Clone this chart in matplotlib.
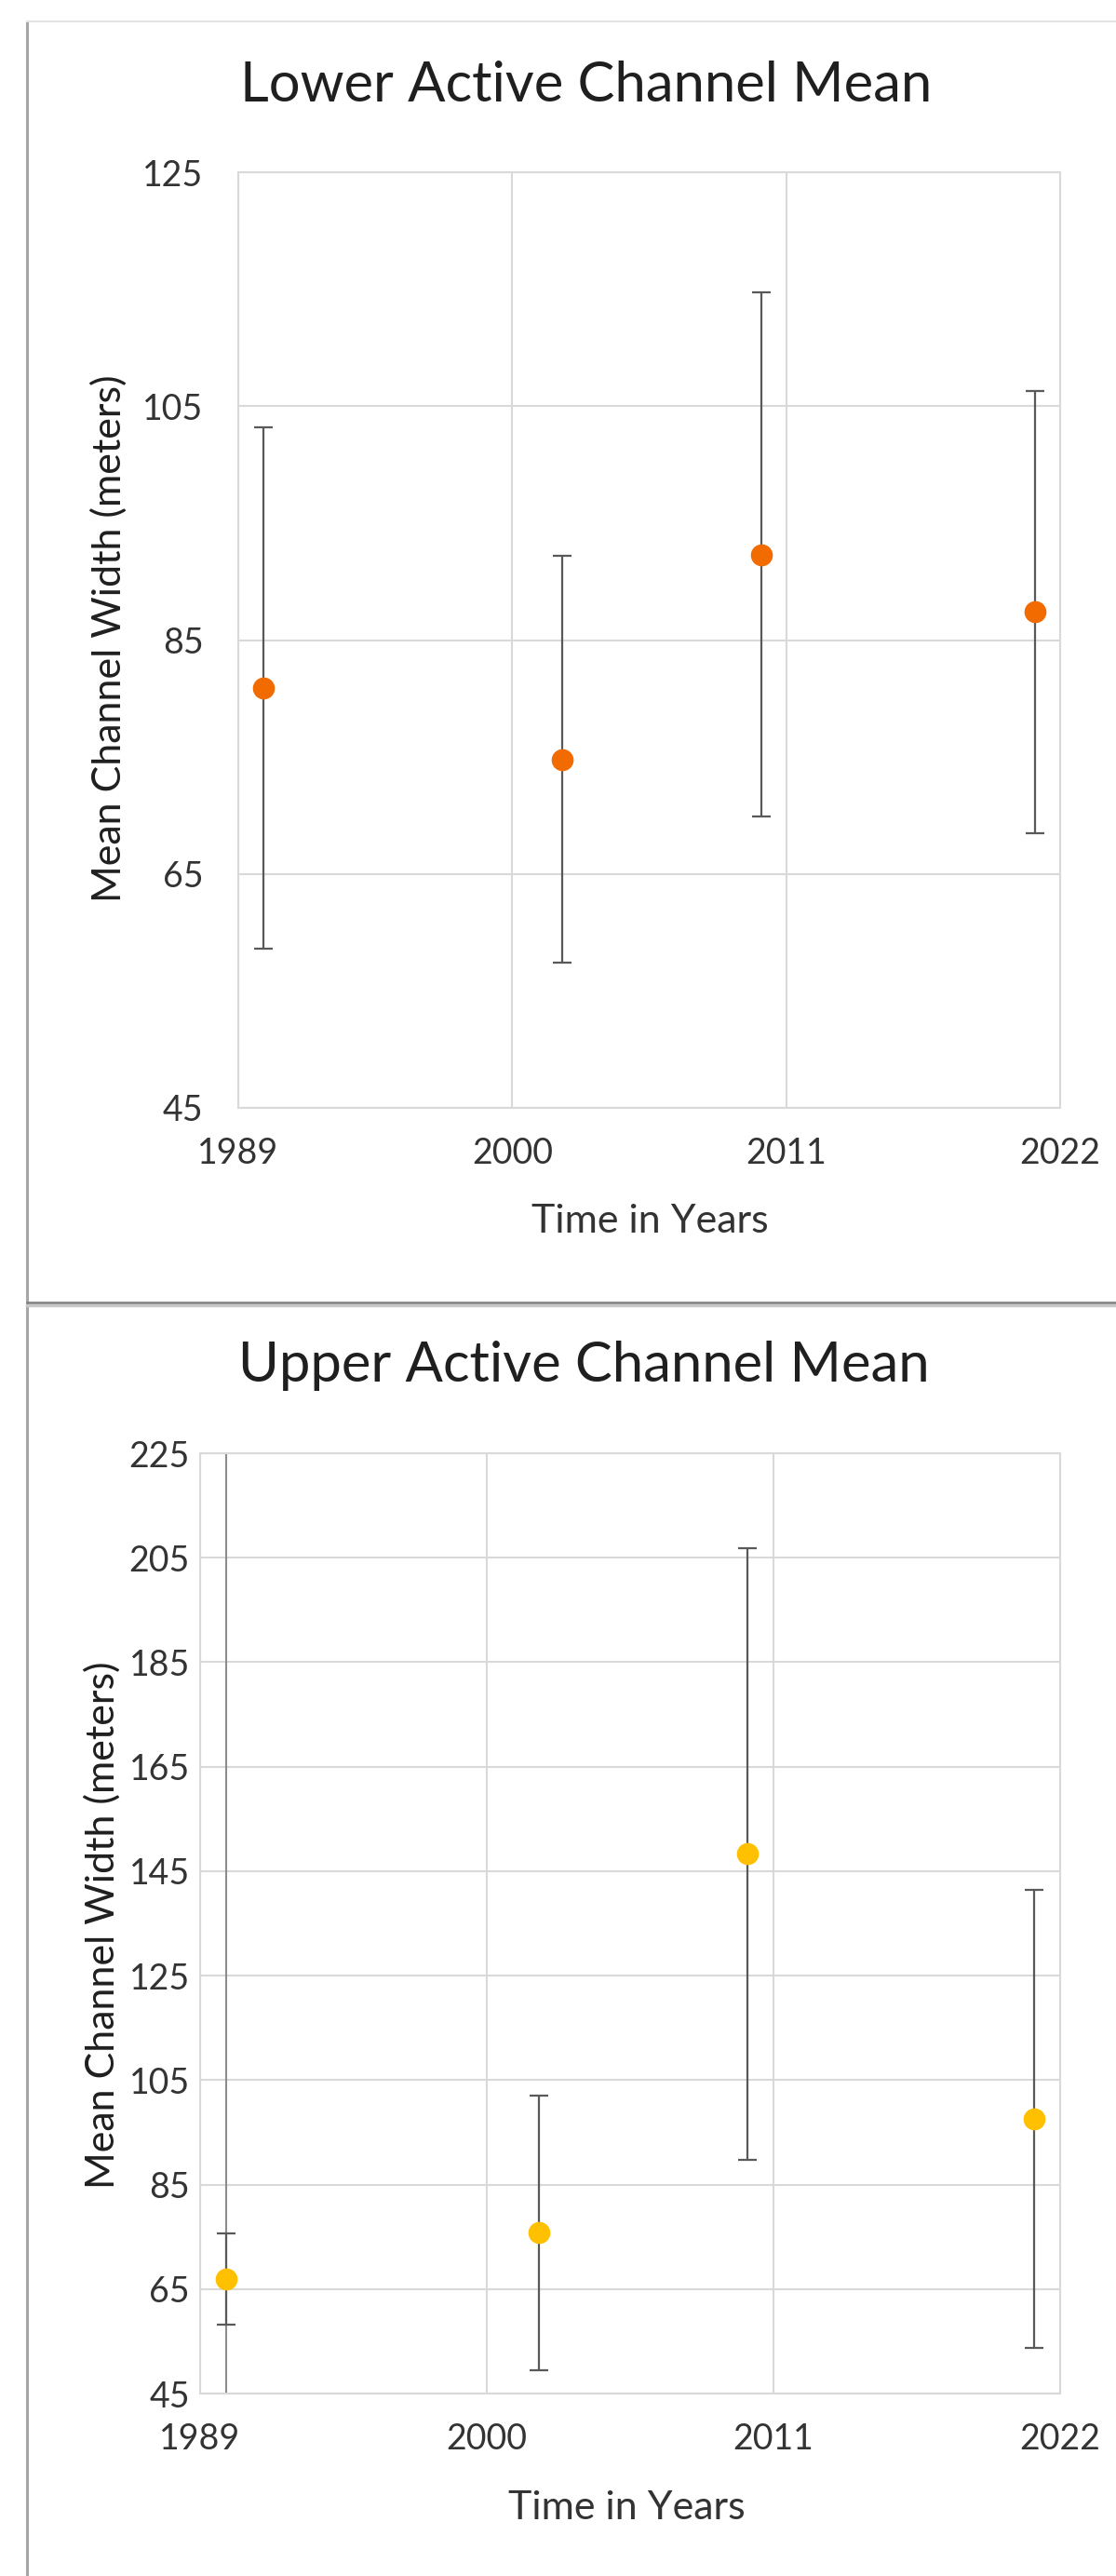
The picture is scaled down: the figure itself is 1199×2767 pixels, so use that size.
import matplotlib.pyplot as plt
from matplotlib.lines import Line2D

plt.rcParams['font.family'] = ['Lato', 'DejaVu Sans']

# Data
years = [1990, 2002, 2010, 2021]
lower_mean = [80.9, 74.8, 92.3, 87.4]
lower_err = [22.3, 17.4, 22.4, 18.9]
upper_mean = [66.9, 75.8, 148.3, 97.6]
upper_err = [8.7, 26.3, 58.5, 43.8]

x_ticks = [1989, 2000, 2011, 2022]
lower_yticks = [45, 65, 85, 105, 125]
upper_yticks = [45, 65, 85, 105, 125, 145, 165, 185, 205, 225]

W, H = 1199, 2767
fig = plt.figure(figsize=(W / 100, H / 100), dpi=100)

GRID = '#D9D9D9'
TEXT = '#333333'
BAR = '#595959'


def fx(px):
    return px / W


def fy(py):
    return 1 - py / H


def style_axes(ax, yticks, ypad):
    ax.set_xlim(x_ticks[0], x_ticks[-1])
    ax.set_ylim(yticks[0], yticks[-1])
    ax.set_xticks(x_ticks)
    ax.set_yticks(yticks)
    ax.grid(True, color=GRID, linewidth=1.5)
    ax.set_axisbelow(True)
    for s in ax.spines.values():
        s.set_color(GRID)
        s.set_linewidth(1.5)
    ax.tick_params(axis='both', length=0, labelsize=27, colors=TEXT)
    ax.tick_params(axis='y', pad=ypad)
    ax.tick_params(axis='x', pad=22)


# top panel: lower channel
ax1 = fig.add_axes([fx(256), fy(1190), fx(1139 - 256), (1190 - 185) / H])
style_axes(ax1, lower_yticks, 27)
ax1.errorbar(years, lower_mean, yerr=lower_err, fmt='o', color='#F26B00',
             markersize=16, ecolor=BAR, elinewidth=1.6, capsize=7.5,
             capthick=1.6, zorder=3)
fig.text(fx(630), fy(92), 'Lower Active Channel Mean', ha='center',
         va='center', fontsize=43, color='#1F1F1F')
fig.text(fx(117), fy(686), 'Mean Channel Width (meters)', rotation=90,
         ha='center', va='center', fontsize=31, color='#1F1F1F')
fig.text(fx(698), fy(1312), 'Time in Years', ha='center', va='center',
         fontsize=31, color=TEXT)

# bottom panel: upper channel
ax2 = fig.add_axes([fx(215), fy(2571), fx(1139 - 215), (2571 - 1561) / H])
style_axes(ax2, upper_yticks, 8)
ax2.axvline(years[0], color='#8C8C8C', linewidth=1.5, zorder=2)
ax2.errorbar(years, upper_mean, yerr=upper_err, fmt='o', color='#FFC000',
             markersize=16, ecolor=BAR, elinewidth=1.6, capsize=7.5,
             capthick=1.6, zorder=3)
fig.text(fx(627), fy(1467), 'Upper Active Channel Mean', ha='center',
         va='center', fontsize=43, color='#1F1F1F')
fig.text(fx(110), fy(2068), 'Mean Channel Width (meters)', rotation=90,
         ha='center', va='center', fontsize=31, color='#1F1F1F')
fig.text(fx(673), fy(2694), 'Time in Years', ha='center', va='center',
         fontsize=31, color=TEXT)

# panel frame lines
fig.add_artist(Line2D([fx(29), fx(29)], [fy(23), 0], color='#A6A6A6',
                      linewidth=2.2, transform=fig.transFigure))
fig.add_artist(Line2D([fx(29), 1], [fy(23), fy(23)], color='#E3E3E3',
                      linewidth=1.5, transform=fig.transFigure))
fig.add_artist(Line2D([fx(29), 1], [fy(1402), fy(1402)], color='#C8C8C8',
                      linewidth=2.5, transform=fig.transFigure))
fig.add_artist(Line2D([fx(29), 1], [fy(1399), fy(1399)], color='#7F7F7F',
                      linewidth=1.8, transform=fig.transFigure))

fig.savefig('out.png', dpi=100, facecolor='white')
